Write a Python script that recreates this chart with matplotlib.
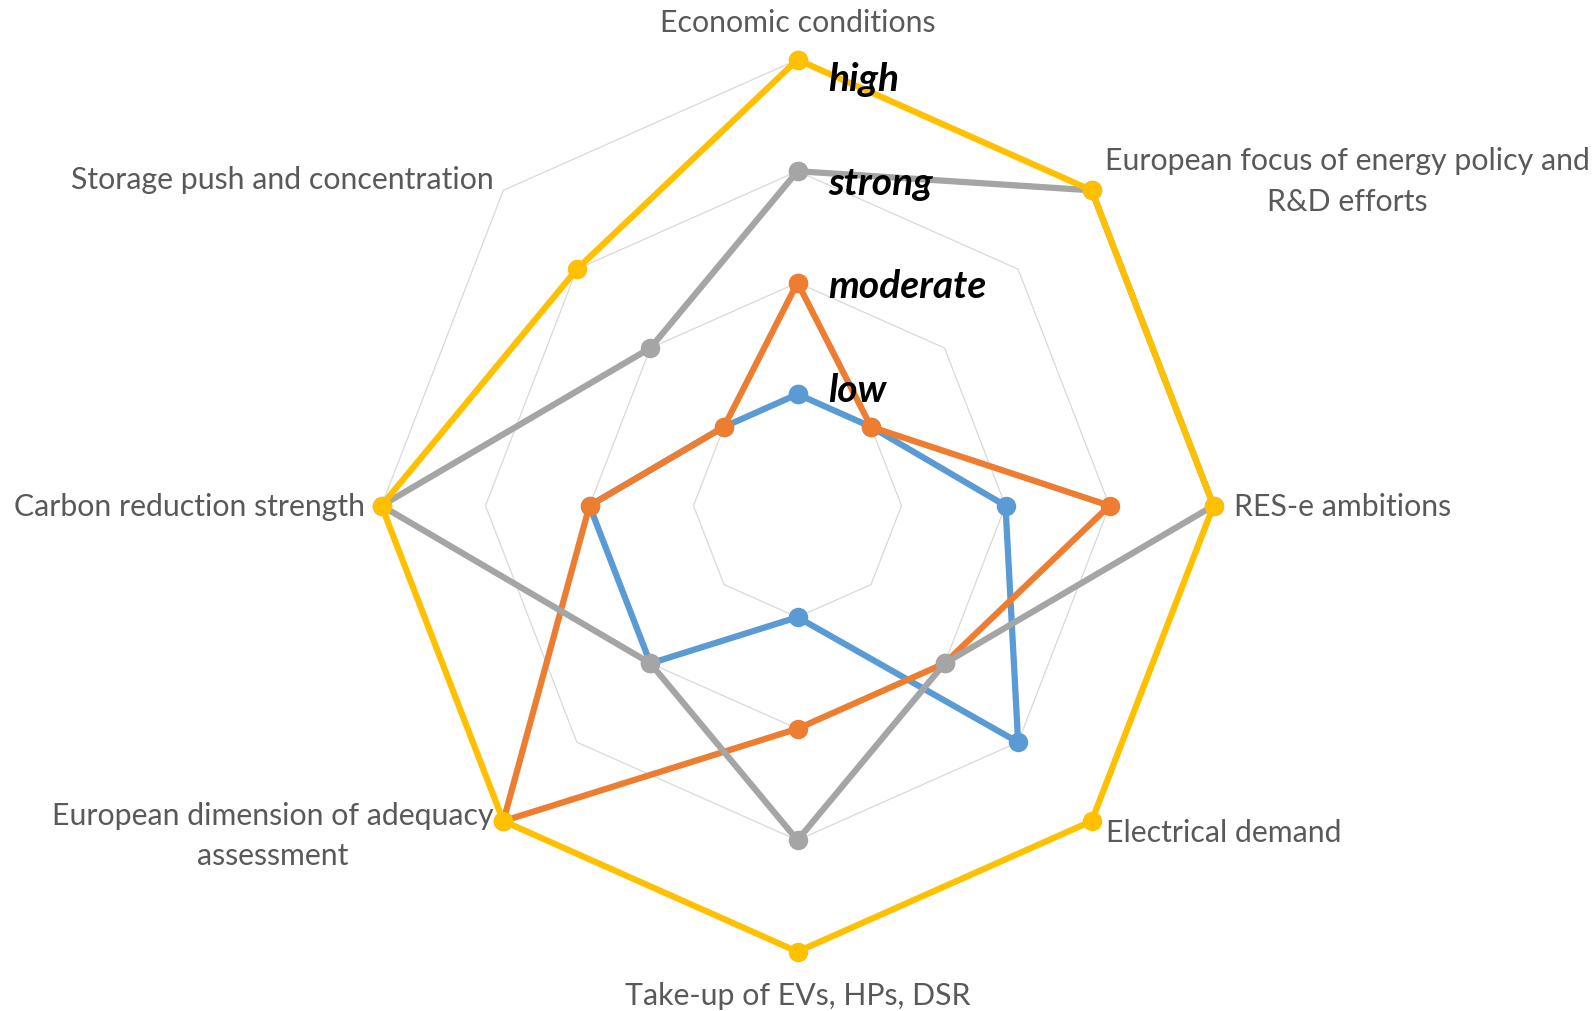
import matplotlib
matplotlib.use('Agg')
import matplotlib.pyplot as plt
import numpy as np

categories = ['Economic conditions',
              'European focus of energy policy and\nR&D efforts',
              'RES-e ambitions',
              'Electrical demand',
              'Take-up of EVs, HPs, DSR',
              'European dimension of adequacy\nassessment',
              'Carbon reduction strength',
              'Storage push and concentration']
levels = [1, 2, 3, 4]
level_names = ['low', 'moderate', 'strong', 'high']

# four scenarios, drawn in this order
series_blue = [1, 1, 2, 3, 1, 2, 2, 1]
series_orange = [2, 1, 3, 2, 2, 4, 2, 1]
series_gray = [3, 4, 4, 2, 3, 2, 4, 2]
series_yellow = [4, 4, 4, 4, 4, 4, 4, 3]

colors = ['#5B9BD5', '#ED7D31', '#A5A5A5', '#FFC000']

plt.rcParams['font.family'] = ['Lato', 'DejaVu Sans']

W, H = 1594, 1012
fig = plt.figure(figsize=(W / 100, H / 100), dpi=100)
cx, cy, rx, ry = 797.5, 506.7, 416, 446
ax = fig.add_axes([(cx - rx) / W, (H - cy - ry) / H, 2 * rx / W, 2 * ry / H],
                  projection='polar')
ax.set_aspect('auto')
ax.set_theta_zero_location('N')
ax.set_theta_direction(-1)
ax.set_ylim(0, 4)
ax.set_axis_off()

n = len(categories)
angles = np.arange(n) * 2 * np.pi / n
closed = np.append(angles, angles[0])

# octagon gridlines
for lv in levels:
    ax.plot(closed, [lv] * (n + 1), color='#D9D9D9', lw=0.9, zorder=1, clip_on=False)

for vals, col in zip([series_blue, series_orange, series_gray, series_yellow], colors):
    v = np.append(vals, vals[0])
    ax.plot(closed, v, color=col, lw=4.5, marker='o', markersize=13,
            solid_joinstyle='round', zorder=3, clip_on=False)

# category labels: (dx, dy) offset in pixels from the outer vertex
label_offsets = [(0, 38), (13, 10), (20, 0), (14, -11),
                 (0, -43), (-10, -14), (-16, 0), (-10, 11)]
for ang, lab, (dx, dy) in zip(angles, categories, label_offsets):
    if dx > 5:
        ha = 'left'
    elif dx < -5:
        ha = 'right'
    else:
        ha = 'center'
    ax.annotate(lab, xy=(ang, 4), xytext=(dx, dy), textcoords='offset pixels',
                ha=ha, va='center', multialignment='center', linespacing=1.55,
                fontsize=21.8, color='#595959', annotation_clip=False)

# level names next to the top axis
level_drop = [6.7, 14, 23, 30.7]
for lv, name, d in zip(levels, level_names, level_drop):
    ax.annotate(name, xy=(0, lv), xytext=(31, -d), textcoords='offset pixels',
                ha='left', va='baseline', fontsize=28, fontweight='bold',
                fontstyle='italic', color='black', annotation_clip=False, zorder=5)

fig.savefig('out.png', dpi=100)
